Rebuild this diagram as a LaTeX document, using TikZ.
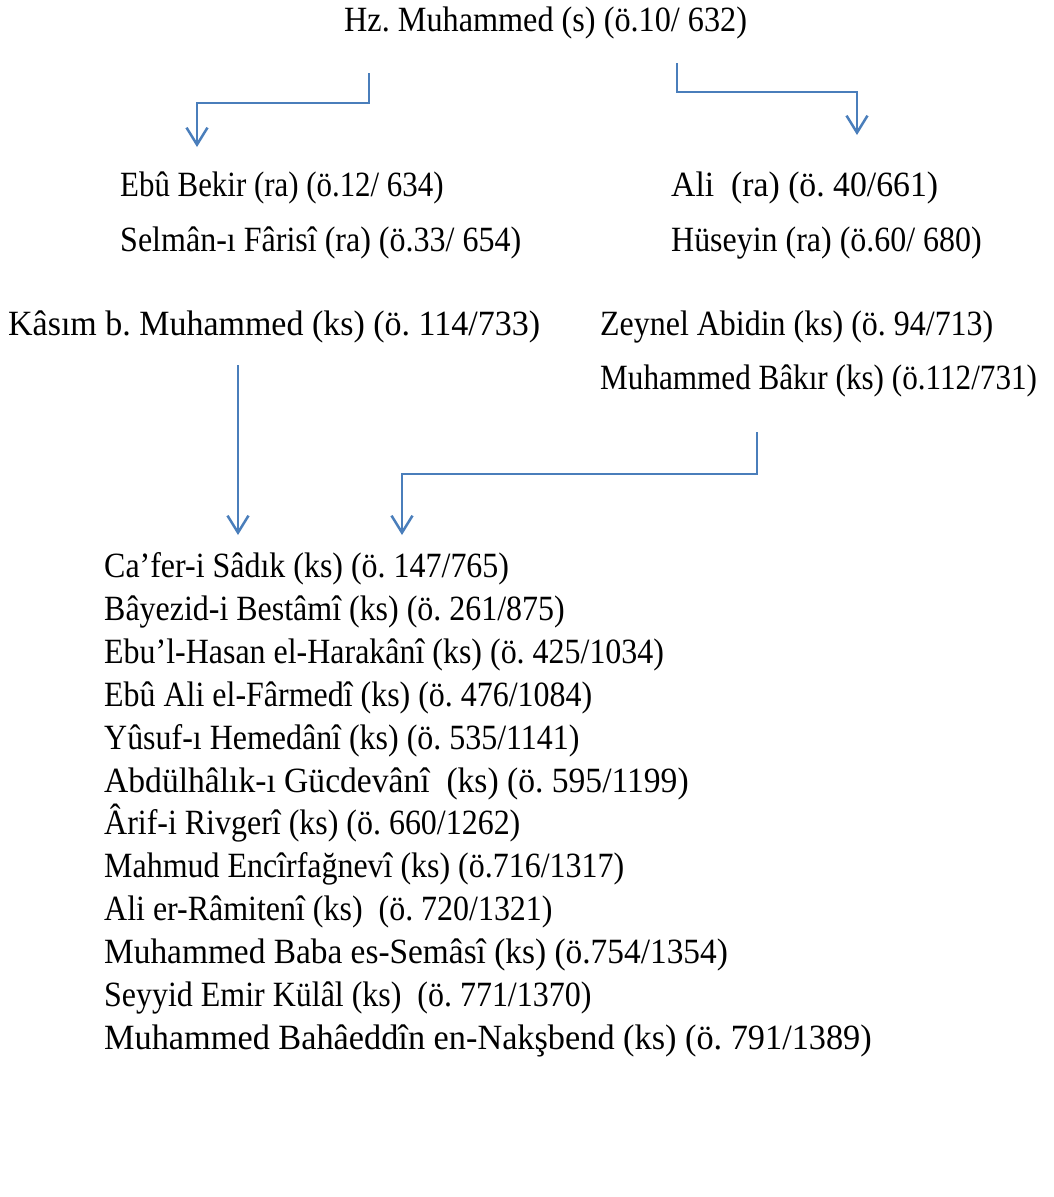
\documentclass[tikz,border=0pt]{standalone}
\usepackage{fontspec}
\setmainfont{Liberation Serif}
\usetikzlibrary{arrows.meta,calc}
\definecolor{linkblue}{RGB}{74,126,187}

\begin{document}
\frenchspacing
\begin{tikzpicture}[x=1pt,y=-1pt]
    \tikzset{person/.style={anchor=base west,inner sep=0pt,
        font=\fontsize{35.5}{42}\selectfont\addfontfeatures{FakeStretch=#1}},
      person/.default=0.9,
      link/.style={draw=linkblue,line width=2.5pt,-{Straight Barb[length=17pt,width=21pt]}}}
    \useasboundingbox (0,0) rectangle (1054,1197);
    % top
    \node[person=0.908] (hz) at (344,31) {Hz. Muhammed (s) (ö.10/ 632)};
    \node[person=0.87] (ebu) at (120,196) {Ebû Bekir (ra) (ö.12/ 634)};
    \node[person=0.902] (selman) at (120,251) {Selmân-ı Fârisî (ra) (ö.33/ 654)};
    \node[person=0.95] (ali) at (671,196) {Ali~ (ra) (ö. 40/661)};
    \node[person] (huseyin) at (671,251) {Hüseyin (ra) (ö.60/ 680)};
    % middle
    \node[person=0.957] (kasim) at (8,335) {Kâsım b. Muhammed (ks) (ö. 114/733)};
    \node[person] (zeynel) at (600,335) {Zeynel Abidin (ks) (ö. 94/713)};
    \node[person=0.878] (bakir) at (600,389) {Muhammed Bâkır (ks) (ö.112/731)};
    % chain
    \node[person] (s1) at (104,577) {Ca’fer-i Sâdık (ks) (ö. 147/765)};
    \node[person] (s2) at (104,620) {Bâyezid-i Bestâmî (ks) (ö. 261/875)};
    \node[person] (s3) at (104,663) {Ebu’l-Hasan el-Harakânî (ks) (ö. 425/1034)};
    \node[person] (s4) at (104,706) {Ebû Ali el-Fârmedî (ks) (ö. 476/1084)};
    \node[person] (s5) at (104,749) {Yûsuf-ı Hemedânî (ks) (ö. 535/1141)};
    \node[person=0.946] (s6) at (104,792) {Abdülhâlık-ı Gücdevânî~ (ks) (ö. 595/1199)};
    \node[person] (s7) at (104,834) {Ârif-i Rivgerî (ks) (ö. 660/1262)};
    \node[person] (s8) at (104,877) {Mahmud Encîrfağnevî (ks) (ö.716/1317)};
    \node[person] (s9) at (104,920) {Ali er-Râmitenî (ks)~ (ö. 720/1321)};
    \node[person=0.94] (s10) at (104,963) {Muhammed Baba es-Semâsî (ks) (ö.754/1354)};
    \node[person] (s11) at (104,1006) {Seyyid Emir Külâl (ks)~ (ö. 771/1370)};
    \node[person=0.966] (s12) at (104,1049) {Muhammed Bahâeddîn en-Nakşbend (ks) (ö. 791/1389)};
    % arrows
    \draw[link] ($(hz.base west)+(25,42)$) -- ++(0,30) -| ($(ebu.base west)+(77,-49)$);
    \draw[link] ($(hz.base west)+(333,32)$) -- ++(0,29) -| ($(ali.base west)+(186,-61)$);
    \draw[link] ($(kasim.base west)+(230,30)$) -- ($(s1.base west)+(134,-42)$);
    \draw[link] ($(bakir.base west)+(157,43)$) -- ++(0,42) -| ($(s1.base west)+(298,-42)$);
\end{tikzpicture}
\end{document}
